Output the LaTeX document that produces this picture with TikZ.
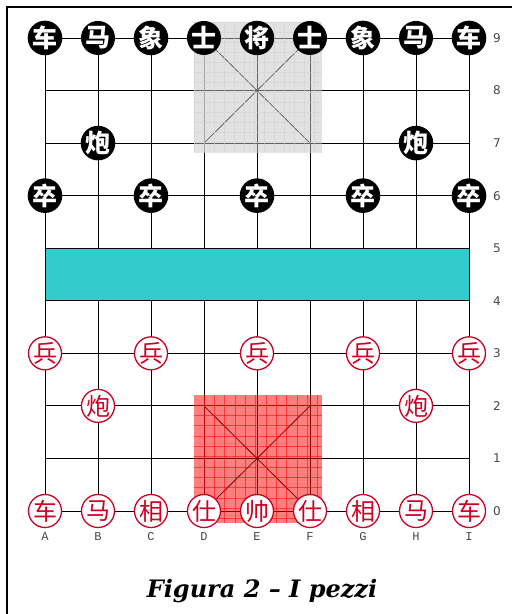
\documentclass[tikz,border=0pt]{standalone}
\usepackage{fontspec}
\newfontfamily\cjk{Noto Sans CJK SC}
\newfontfamily\lblsans{DejaVu Sans}
\newfontfamily\lblmono{Liberation Mono}
\newfontfamily\capfont{DejaVu Serif}
\definecolor{pcred}{RGB}{204,0,34}
\definecolor{river}{RGB}{51,204,204}
\definecolor{lblgray}{RGB}{70,70,70}
\tikzset{
  gridline/.style={line width=0.8pt, black},
  bpiece/.style={circle, fill=black, minimum size=34pt, inner sep=0pt, text=white, font=\cjk\bfseries\fontsize{25}{25}\selectfont},
  rpiece/.style={circle, fill=white, draw=pcred, line width=1.3pt, minimum size=33pt, inner sep=0pt, text=pcred, font=\cjk\fontsize{24}{24}\selectfont},
  rowlbl/.style={font=\lblsans\fontsize{12}{12}\selectfont, text=lblgray, inner sep=0pt},
  collbl/.style={font=\lblmono\fontsize{12}{12}\selectfont, text=lblgray, inner sep=0pt},
}
\begin{document}
\begin{tikzpicture}[x=1pt,y=-1pt]
\useasboundingbox (0,0) rectangle (512,614);
\fill[white] (0,0) rectangle (512,614);
% coordinates
\foreach \c [count=\i from 0] in {A,B,C,D,E,F,G,H,I}{
  \foreach \r in {0,...,9}{
    \coordinate (\c\r) at ({45+53*\i},{511-52.56*\r});
  }
}
% frame
\draw[line width=2pt] (512,7) -- (7,7) -- (7,614);
% river
\fill[river] (A5) rectangle (I4);
% grid
\foreach \r in {0,...,9}{ \draw[gridline] (A\r) -- (I\r); }
\draw[gridline] (A9) -- (A0);
\draw[gridline] (I9) -- (I0);
\foreach \c in {B,C,D,E,F,G,H}{
  \draw[gridline] (\c9) -- (\c5);
  \draw[gridline] (\c4) -- (\c0);
}
\draw[gridline] (D9) -- (F7);
\draw[gridline] (F9) -- (D7);
\draw[gridline] (D2) -- (F0);
\draw[gridline] (F2) -- (D0);
% palaces overlay
\fill[gray!45, opacity=0.5] (194,22) rectangle (322,152);
\begin{scope}
\clip (194,22) rectangle (322,152);
\foreach \k in {0,...,13}{
  \draw[gray!35, opacity=0.6, line width=0.8pt] ({194+10*\k},22) -- ({194+10*\k},152);
  \draw[gray!35, opacity=0.6, line width=0.8pt] (194,{22+10*\k}) -- (322,{22+10*\k});
}
\end{scope}
\fill[red, opacity=0.5] (194,395) rectangle (322,523);
\begin{scope}
\clip (194,395) rectangle (322,523);
\foreach \k in {1,...,13}{
  \draw[red, opacity=0.55, line width=0.9pt] ({194+10.3*\k},395) -- ({194+10.3*\k},523);
  \draw[red, opacity=0.55, line width=0.9pt] (194,{395+10.3*\k}) -- (322,{395+10.3*\k});
}
\end{scope}
% black pieces
\node[bpiece] (bA9) at (A9) {车};
\node[bpiece] (bB9) at (B9) {马};
\node[bpiece] (bC9) at (C9) {象};
\node[bpiece] (bD9) at (D9) {士};
\node[bpiece] (bE9) at (E9) {将};
\node[bpiece] (bF9) at (F9) {士};
\node[bpiece] (bG9) at (G9) {象};
\node[bpiece] (bH9) at (H9) {马};
\node[bpiece] (bI9) at (I9) {车};
\node[bpiece] (bB7) at (B7) {炮};
\node[bpiece] (bH7) at (H7) {炮};
\node[bpiece] (bA6) at (A6) {卒};
\node[bpiece] (bC6) at (C6) {卒};
\node[bpiece] (bE6) at (E6) {卒};
\node[bpiece] (bG6) at (G6) {卒};
\node[bpiece] (bI6) at (I6) {卒};
% red pieces
\node[rpiece] (rA3) at (A3) {兵};
\node[rpiece] (rC3) at (C3) {兵};
\node[rpiece] (rE3) at (E3) {兵};
\node[rpiece] (rG3) at (G3) {兵};
\node[rpiece] (rI3) at (I3) {兵};
\node[rpiece] (rB2) at (B2) {炮};
\node[rpiece] (rH2) at (H2) {炮};
\node[rpiece] (rA0) at (A0) {车};
\node[rpiece] (rB0) at (B0) {马};
\node[rpiece] (rC0) at (C0) {相};
\node[rpiece] (rD0) at (D0) {仕};
\node[rpiece] (rE0) at (E0) {帅};
\node[rpiece] (rF0) at (F0) {仕};
\node[rpiece] (rG0) at (G0) {相};
\node[rpiece] (rH0) at (H0) {马};
\node[rpiece] (rI0) at (I0) {车};
% row labels
\foreach \r in {0,...,9}{
  \node[rowlbl] (row\r) at ({497},{511-52.56*\r}) {\r};
}
% column labels
\foreach \c [count=\i from 0] in {A,B,C,D,E,F,G,H,I}{
  \node[collbl] (col\c) at ({45+53*\i},537) {\c};
}
% caption
\node[font=\capfont\bfseries\itshape\fontsize{24}{28}\selectfont] (caption) at (262,591) {Figura 2 – I pezzi};
\end{tikzpicture}
\end{document}
